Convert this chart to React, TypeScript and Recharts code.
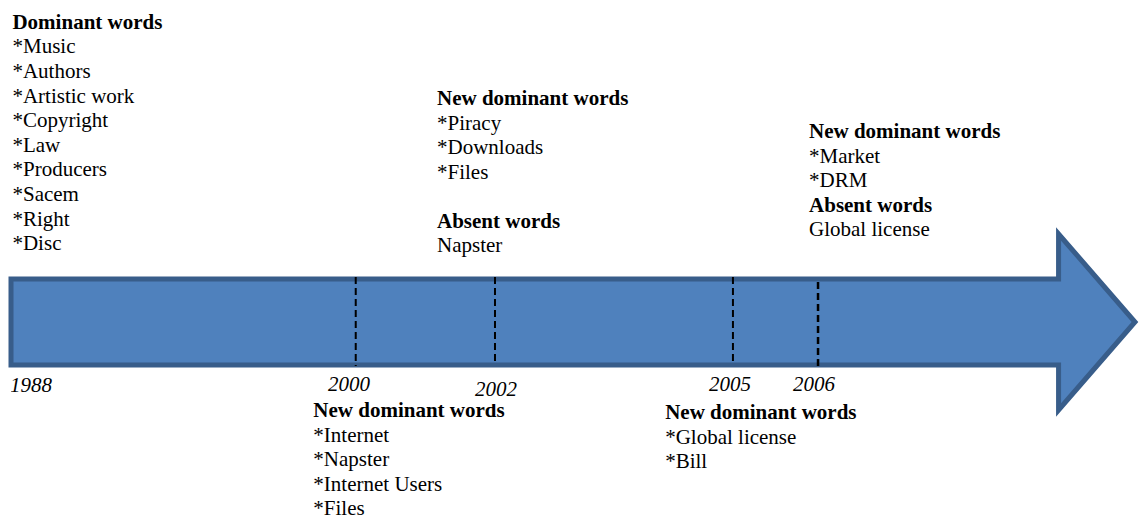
import React from "react";
import {
    ComposedChart,
    XAxis,
    YAxis,
    Scatter,
    ReferenceArea,
    ReferenceLine,
} from "recharts";

// years marked on the timeline and where they sit along the arrow (% of its length)
const years = ["1988", "2000", "2002", "2005", "2006"];
const yearPos = [0, 30.67, 43.06, 64.23, 71.8];
const dashedYears = ["2000", "2002", "2005", "2006"];

// word lists
const dominantWords = ["*Music", "*Authors", "*Artistic work", "*Copyright", "*Law", "*Producers", "*Sacem", "*Right", "*Disc"];
const newWords2000 = ["*Internet", "*Napster", "*Internet Users", "*Files"];
const newWords2002 = ["*Piracy", "*Downloads", "*Files"];
const absentWords2002 = ["Napster"];
const newWords2005 = ["*Global license", "*Bill"];
const newWords2006 = ["*Market", "*DRM"];
const absentWords2006 = ["Global license"];

// layout (axis units: x = % along arrow, y = rows of the 515px canvas)
const ARROW = { start: 0, neck: 93.2, tip: 100, headTop: 234, headBottom: 410, bodyTop: 279, bodyBottom: 365 };
const ROW = 24.5;
const FILL = "#4f81bd";
const EDGE = "#385d8a";
const FONT = "Liberation Serif, Times New Roman, serif";

// the dashed markers are not all drawn the same in the picture
const dashLayout: Record<string, { from: number; to: number; w: number }> = {
    "2000": { from: 277, to: 366, w: 2 },
    "2002": { from: 277, to: 364, w: 2 },
    "2005": { from: 277, to: 365, w: 2 },
    "2006": { from: 282, to: 370, w: 2.5 },
};

type Line = { text: string; bold?: boolean } | null;

const blocks: { x: number; top: number; step: number; lines: Line[] }[] = [
    {
        x: 0.13, top: 21.7, step: 24.6,
        lines: [{ text: "Dominant words", bold: true }, ...dominantWords.map((t) => ({ text: t }))],
    },
    {
        x: 37.9, top: 98, step: ROW,
        lines: [
            { text: "New dominant words", bold: true },
            ...newWords2002.map((t) => ({ text: t })),
            null,
            { text: "Absent words", bold: true },
            ...absentWords2002.map((t) => ({ text: t })),
        ],
    },
    {
        x: 71.0, top: 131, step: ROW,
        lines: [
            { text: "New dominant words", bold: true },
            ...newWords2006.map((t) => ({ text: t })),
            { text: "Absent words", bold: true },
            ...absentWords2006.map((t) => ({ text: t })),
        ],
    },
    {
        x: 26.9, top: 410, step: ROW,
        lines: [{ text: "New dominant words", bold: true }, ...newWords2000.map((t) => ({ text: t }))],
    },
    {
        x: 58.2, top: 412, step: ROW,
        lines: [{ text: "New dominant words", bold: true }, ...newWords2005.map((t) => ({ text: t }))],
    },
];

// year labels sit a bit off their marker in the picture; 2002 has an opaque text box
const yearLabelShift = [
    { dx: -0.1, dy: 385, anchor: "start", box: false },
    { dx: -0.6, dy: 384, anchor: "middle", box: false },
    { dx: 0.09, dy: 389, anchor: "middle", box: true },
    { dx: -0.26, dy: 384, anchor: "middle", box: false },
    { dx: -0.36, dy: 384, anchor: "middle", box: false },
];

const wordRows: any[] = [];
blocks.forEach((b) => {
    b.lines.forEach((l, i) => {
        if (l) wordRows.push({ x: b.x, y: b.top + i * b.step, text: l.text, bold: !!l.bold });
    });
});

const yearRows = years.map((y, i) => ({
    x: yearPos[i] + yearLabelShift[i].dx,
    y: yearLabelShift[i].dy,
    text: y,
    anchor: yearLabelShift[i].anchor,
    box: yearLabelShift[i].box,
}));

const WordText = (props: any) => {
    const { cx, cy, payload } = props;
    return (
        <text x={cx} y={cy} dominantBaseline="central" fill="#000"
            style={{ fontFamily: FONT, fontSize: 21, fontWeight: payload.bold ? 700 : 400 }}>
            {payload.text}
        </text>
    );
};

const YearText = (props: any) => {
    const { cx, cy, payload } = props;
    return (
        <g>
            {payload.box && <rect x={cx - 36} y={cy - 14} width={80} height={29} fill="#fff" />}
            <text x={cx} y={cy} dominantBaseline="central" textAnchor={payload.anchor} fill="#000"
                style={{ fontFamily: FONT, fontSize: 21, fontStyle: "italic" }}>
                {payload.text}
            </text>
        </g>
    );
};

const ArrowShape = (props: any) => {
    const { x, y, width, height } = props;
    const span = ARROW.tip - ARROW.start;
    const hSpan = ARROW.headBottom - ARROW.headTop;
    const nx = x + (width * (ARROW.neck - ARROW.start)) / span;
    const bt = y + (height * (ARROW.bodyTop - ARROW.headTop)) / hSpan;
    const bb = y + (height * (ARROW.bodyBottom - ARROW.headTop)) / hSpan;
    const d = `M${x},${bt} L${nx},${bt} L${nx},${y} L${x + width},${y + height / 2} L${nx},${y + height} L${nx},${bb} L${x},${bb} Z`;
    return <path d={d} fill={FILL} stroke={EDGE} strokeWidth={5} />;
};

const App: React.FC = () => {
    return (
        <div style={{ position: "absolute", left: 0, top: 0, background: "#fff" }}>
            <ComposedChart width={1140} height={515} margin={{ top: 0, right: 5, left: 11, bottom: 0 }}>
                <XAxis type="number" dataKey="x" domain={[0, 100]} allowDataOverflow hide />
                <YAxis type="number" dataKey="y" domain={[0, 515]} reversed allowDataOverflow hide />
                <ReferenceArea
                    x1={ARROW.start}
                    x2={ARROW.tip}
                    y1={ARROW.headTop}
                    y2={ARROW.headBottom}
                    shape={ArrowShape}
                    ifOverflow="visible"
                />
                {dashedYears.map((yr) => {
                    const p = yearPos[years.indexOf(yr)];
                    const l = dashLayout[yr];
                    return (
                        <ReferenceLine
                            key={yr}
                            segment={[{ x: p, y: l.from }, { x: p, y: l.to }]}
                            stroke="#000"
                            strokeWidth={l.w}
                            strokeDasharray="7 4"
                            ifOverflow="visible"
                        />
                    );
                })}
                <Scatter data={wordRows} shape={WordText} isAnimationActive={false} />
                <Scatter data={yearRows} shape={YearText} isAnimationActive={false} />
            </ComposedChart>
        </div>
    );
};

export default App;
